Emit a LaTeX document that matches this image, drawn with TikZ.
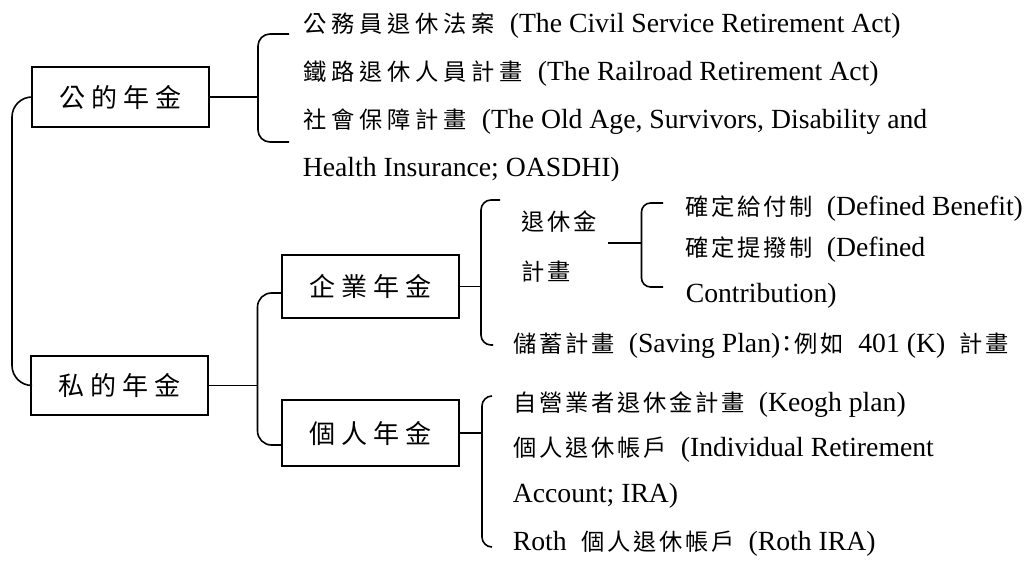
\documentclass[tikz,border=0pt]{standalone}
\usepackage{fontspec}
\setmainfont{Liberation Serif}
\newfontfamily\cjkfont{Noto Sans CJK TC}[Scale=0.84]
\newlength\cjkadv
\makeatletter
% set each ideograph in a fixed-width cell
\newcommand\zh[2][26pt]{{\setlength\cjkadv{#1}\cjkfont\@tfor\zh@c:=#2\do{\makebox[\cjkadv][c]{\zh@c}}}}
\makeatother
\newcommand\gap{\hspace{13pt}}

\begin{document}
\begin{tikzpicture}[x=1pt,y=-1pt,line width=1.6pt,
  box/.style={draw,inner sep=0pt,minimum width=177pt,font=\fontsize{31}{31}\selectfont},
  item/.style={anchor=base west,inner sep=0pt,font=\fontsize{27.7}{30}\selectfont},
  bracketline/.style={rounded corners=#1},bracketline/.default=10pt]
\fill[white] (0,0) rectangle (1024,561);
\useasboundingbox (0,0) rectangle (1024,561);

% category boxes
\node[box,minimum height=60pt] (pub)   at (120.5,97)   {\zh[32pt]{公的年金}};
\node[box,minimum height=59pt] (priv)  at (119.5,385.5) {\zh[32pt]{私的年金}};
\node[box,minimum height=63pt] (corp)  at (370.5,286.5) {\zh[32pt]{企業年金}};
\node[box,minimum height=66pt] (indiv) at (370.5,433)   {\zh[32pt]{個人年金}};

% public pension plans
\node[item] (a1) at (300,33)  {\zh[28pt]{公務員退休法案}\gap(The Civil Service Retirement Act)};
\node[item] (a2) at (300,81)  {\zh[28pt]{鐵路退休人員計畫}\gap(The Railroad Retirement Act)};
\node[item] (a3) at (300,129) {\zh[28pt]{社會保障計畫}\gap(The Old Age, Survivors, Disability and};
\begin{scope}
  \clip (0,0) rectangle (1024,181);
  \node[item] (a4) at (302,177) {Health Insurance; OASDHI)};
\end{scope}

% employer plans
\node[item] (r1) at (519,231) {\zh{退休金}};
\node[item] (r2) at (519,280) {\zh{計畫}};
\node[item] (d1) at (683,215) {\zh{確定給付制}\gap(Defined Benefit)};
\node[item] (d2) at (683,256) {\zh{確定提撥制}\gap(Defined};
\node[item] (d3) at (685,302) {Contribution)};
\node[item] (s1) at (511,352) {\zh{儲蓄計畫}\gap(Saving Plan){\cjkfont\makebox[13pt]{：}}\zh{例如}\gap 401 (K)\gap\zh{計畫}};

% individual plans
\node[item] (i1) at (511,411) {\zh{自營業者退休金計畫}\gap(Keogh plan)};
\node[item] (i2) at (511,456) {\zh{個人退休帳戶}\gap(Individual Retirement};
\node[item] (i3) at (512,502) {Account; IRA)};
\node[item] (i4) at (512,550) {Roth\gap\zh{個人退休帳戶}\gap(Roth IRA)};

% bracket ends and junctions
\coordinate (sp)  at (12,240);
\coordinate (g1t) at (289,34);   \coordinate (g1j) at (258,97);    \coordinate (g1b) at (289,142);
\coordinate (pt)  at (282,293);  \coordinate (pj)  at (257.5,385.5); \coordinate (pb) at (282,445);
\coordinate (ct)  at (500,200);  \coordinate (cj)  at (481,286.5); \coordinate (cb)  at (493,345);
\coordinate (it)  at (492,396);  \coordinate (ij)  at (482,433);   \coordinate (ib)  at (492,547);
\coordinate (rt)  at (663,203);  \coordinate (rj)  at (641.5,243); \coordinate (rb)  at (663,287);
\coordinate (rtail) at (608,243);

% brackets
\draw[bracketline=20pt] (pub.west) -| (sp) |- (priv.west);
\draw[bracketline=12pt] (g1t) -| (g1j) |- (g1b);
\draw[bracketline=14pt] (pt) -| (pj) |- (pb);
\draw[bracketline] (ct) -| (cj) |- (cb);
\draw[bracketline] (it) -| (ij) |- (ib);
\draw[bracketline=9pt] (rt) -| (rj) |- (rb);

% connectors
\draw (pub.east) -- (g1j);
\draw (priv.east) -- (pj);
\draw (corp.east) -- (cj);
\draw (indiv.east) -- (ij);
\draw (rtail) -- (rj);
\end{tikzpicture}
\end{document}
